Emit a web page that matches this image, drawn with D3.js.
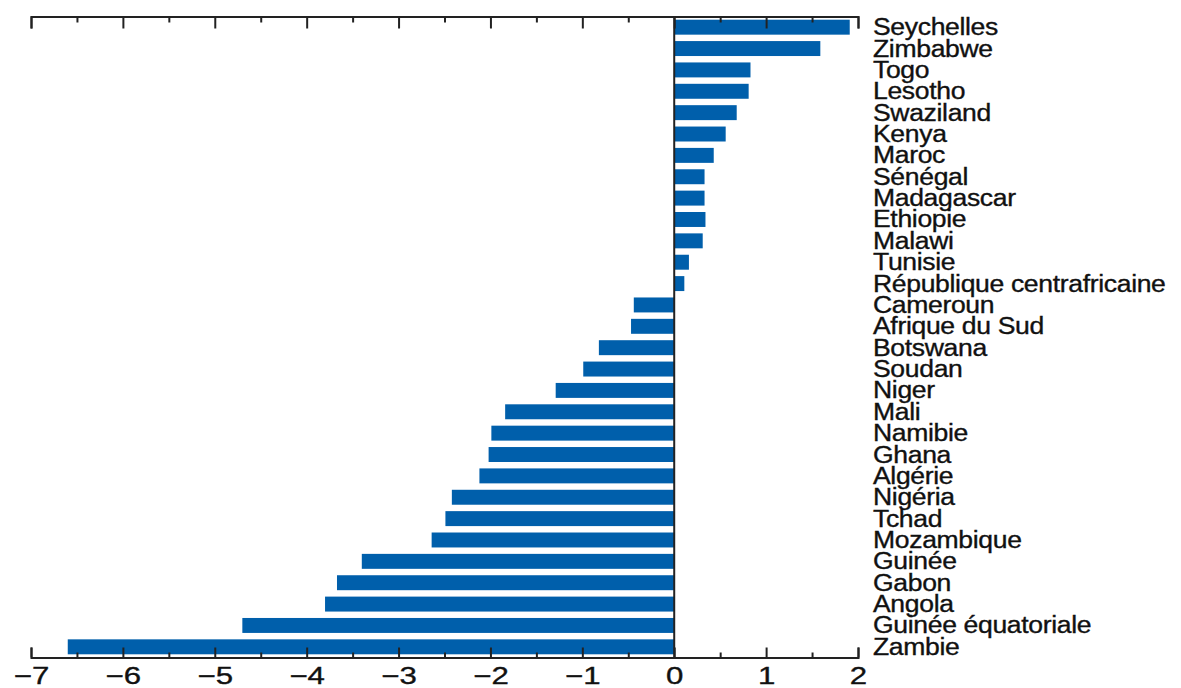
<!DOCTYPE html>
<html>
<head>
<meta charset="utf-8">
<script src="https://cdn.jsdelivr.net/npm/d3@7"></script>
<style>
  body { margin: 0; background: #fff; }
  text { font-family: "Liberation Sans", Arial, sans-serif; fill: #111; stroke: #111; stroke-width: 0.35px; }
</style>
</head>
<body>
<div id="chart"></div>
<script>
// données
const countries = ["Seychelles", "Zimbabwe", "Togo", "Lesotho", "Swaziland", "Kenya", "Maroc",
  "Sénégal", "Madagascar", "Ethiopie", "Malawi", "Tunisie", "République centrafricaine",
  "Cameroun", "Afrique du Sud", "Botswana", "Soudan", "Niger", "Mali", "Namibie", "Ghana",
  "Algérie", "Nigéria", "Tchad", "Mozambique", "Guinée", "Gabon", "Angola",
  "Guinée équatoriale", "Zambie"];
const values = [1.91, 1.59, 0.83, 0.81, 0.68, 0.56, 0.43, 0.33, 0.33, 0.34, 0.31, 0.16, 0.11,
  -0.44, -0.47, -0.82, -0.99, -1.29, -1.84, -1.99, -2.02, -2.12, -2.42, -2.49, -2.64,
  -3.40, -3.67, -3.80, -4.70, -6.60];
const majorTicks = [-7, -6, -5, -4, -3, -2, -1, 0, 1, 2];
const minorTicks = [-6.5, -5.5, -4.5, -3.5, -2.5, -1.5, -0.5, 0.5, 1.5];

const width = 1181, height = 688;
const svg = d3.select("#chart").append("svg")
    .attr("width", width)
    .attr("height", height);

const x = d3.scaleLinear().domain([-7, 2]).range([31, 858]);
const y = d3.scaleBand().domain(countries).range([16.5, 657.5])
    .paddingInner(0.3).paddingOuter(0.15);

const yTop = 16.5, yBottom = 657.5;

// barres
svg.selectAll("rect.bar")
   .data(values)
   .enter()
   .append("rect")
   .attr("class", "bar")
   .attr("x", d => x(Math.min(0, d)))
   .attr("y", (d, i) => y(countries[i]))
   .attr("width", d => Math.abs(x(d) - x(0)))
   .attr("height", y.bandwidth())
   .attr("fill", "#005fab");

// axe du haut (traits vers le bas)
function styleAxis(g) {
  g.selectAll("path, line").attr("stroke", "#222").attr("stroke-width", 2);
}
svg.append("g").attr("transform", `translate(0,${yTop})`)
   .call(d3.axisBottom(x).tickValues(majorTicks).tickSize(12).tickFormat(""))
   .call(styleAxis);
svg.append("g").attr("transform", `translate(0,${yTop})`)
   .call(d3.axisBottom(x).tickValues(minorTicks).tickSize(6).tickSizeOuter(0).tickFormat(""))
   .call(styleAxis);

// axe du bas (traits vers le haut)
svg.append("g").attr("transform", `translate(0,${yBottom})`)
   .call(d3.axisTop(x).tickValues(majorTicks).tickSize(10).tickFormat(""))
   .call(styleAxis);
svg.append("g").attr("transform", `translate(0,${yBottom})`)
   .call(d3.axisTop(x).tickValues(minorTicks).tickSize(5).tickSizeOuter(0).tickFormat(""))
   .call(styleAxis);

// étiquettes de l'axe du bas
const lab = svg.append("g").attr("transform", `translate(0,${yBottom})`)
   .call(d3.axisBottom(x).tickValues(majorTicks).tickSize(0).tickPadding(9));
lab.select(".domain").remove();
lab.selectAll("text")
   .attr("font-size", 24)
   .attr("font-family", "Liberation Sans, Arial, sans-serif")
   .attr("fill", "#111")
   .attr("transform", "scale(1.3,1)");

// ligne zéro
svg.append("line")
   .attr("x1", x(0)).attr("x2", x(0))
   .attr("y1", yTop).attr("y2", yBottom)
   .attr("stroke", "#222").attr("stroke-width", 2);

// noms des pays
svg.selectAll("text.country")
   .data(countries)
   .enter()
   .append("text")
   .attr("class", "country")
   .attr("transform", d => `translate(873,${y(d) + y.bandwidth() / 2 + 8}) scale(1.13,1)`)
   .attr("font-size", 23.5)
   .attr("letter-spacing", -0.3)
   .text(d => d);
</script>
</body>
</html>
